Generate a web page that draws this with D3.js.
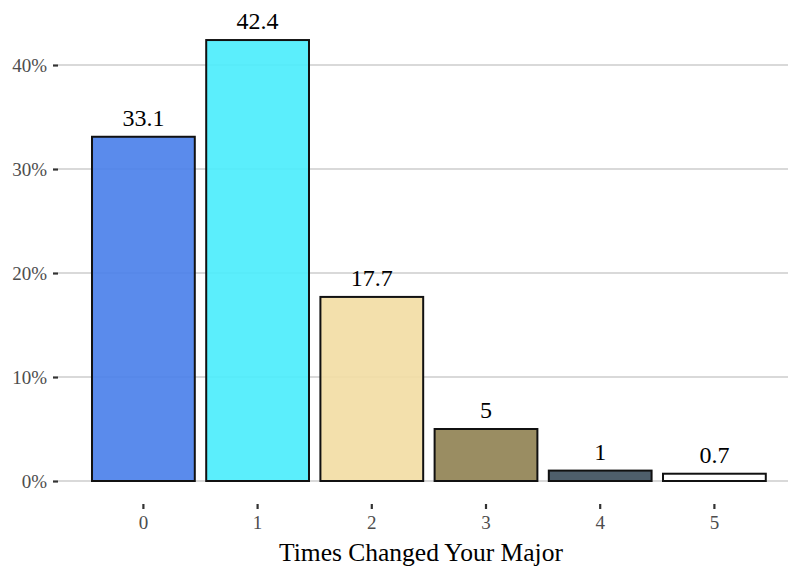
<!DOCTYPE html>
<html>
<head>
<meta charset="utf-8">
<script src="https://cdn.jsdelivr.net/npm/d3@7"></script>
<style>
  html, body { margin: 0; padding: 0; background: #ffffff; }
  svg { display: block; }
  text { font-family: "Liberation Serif", "DejaVu Serif", serif; }
</style>
</head>
<body>
<svg id="chart" width="788" height="567"></svg>
<script>
// ---- data ----
const categories = ["0", "1", "2", "3", "4", "5"];
const values = [33.1, 42.4, 17.7, 5, 1, 0.7];
const barColors = ["#487EEA", "#49ECFC", "#F2DDA3", "#8F8151", "#3B4D5B", "#FFFFFF"];
const yTicks = [0, 10, 20, 30, 40];
const yTickLabels = ["0%", "10%", "20%", "30%", "40%"];
const xTitle = "Times Changed Your Major";

// ---- layout ----
const W = 788, H = 567;
const panel = { left: 58, right: 788, top: 8, bottom: 481 };

const svg = d3.select("#chart");

const x = d3.scaleBand()
  .domain(categories)
  .range([86.3, 771.5])
  .paddingInner(0.1)
  .paddingOuter(0.05);

const y = d3.scaleLinear()
  .domain([0, 40])
  .range([panel.bottom, panel.bottom - 416]);

// gridlines
svg.append("g")
  .selectAll("line")
  .data(yTicks)
  .join("line")
  .attr("x1", panel.left)
  .attr("x2", panel.right)
  .attr("y1", d => y(d))
  .attr("y2", d => y(d))
  .attr("stroke", "#d9d9d9")
  .attr("stroke-width", 2);

// y axis
const yAxis = d3.axisLeft(y)
  .tickValues(yTicks)
  .tickFormat((d, i) => yTickLabels[i])
  .tickSize(5)
  .tickPadding(6);
const gy = svg.append("g")
  .attr("transform", `translate(${panel.left},0)`)
  .call(yAxis);
gy.select(".domain").remove();
gy.selectAll(".tick line").attr("stroke", "#333333").attr("stroke-width", 2.2);
gy.selectAll(".tick text")
  .attr("fill", "#4d4d4d")
  .style("font-size", "19px")
  .attr("dy", "0.34em");

// x axis
const xAxis = d3.axisBottom(x)
  .tickSize(5)
  .tickPadding(7);
const gx = svg.append("g")
  .attr("transform", `translate(0,504)`)
  .call(xAxis);
gx.select(".domain").remove();
gx.selectAll(".tick line").attr("stroke", "#333333").attr("stroke-width", 2.2);
gx.selectAll(".tick text")
  .attr("fill", "#4d4d4d")
  .style("font-size", "19px");

// bars
svg.append("g")
  .selectAll("rect")
  .data(values)
  .join("rect")
  .attr("x", (d, i) => x(categories[i]))
  .attr("width", x.bandwidth())
  .attr("y", d => y(d))
  .attr("height", d => y(0) - y(d))
  .attr("fill", (d, i) => barColors[i])
  .attr("fill-opacity", 0.9)
  .attr("stroke", "#111111")
  .attr("stroke-width", 2);

// value labels
svg.append("g")
  .selectAll("text")
  .data(values)
  .join("text")
  .attr("x", (d, i) => x(categories[i]) + x.bandwidth() / 2)
  .attr("y", d => y(d) - 11)
  .attr("text-anchor", "middle")
  .attr("fill", "#000000")
  .style("font-size", "24px")
  .text(d => d);

// x title
svg.append("text")
  .attr("x", (panel.left + panel.right) / 2 - 2)
  .attr("y", 561)
  .attr("text-anchor", "middle")
  .attr("fill", "#000000")
  .style("font-size", "25.5px")
  .text(xTitle);
</script>
</body>
</html>
